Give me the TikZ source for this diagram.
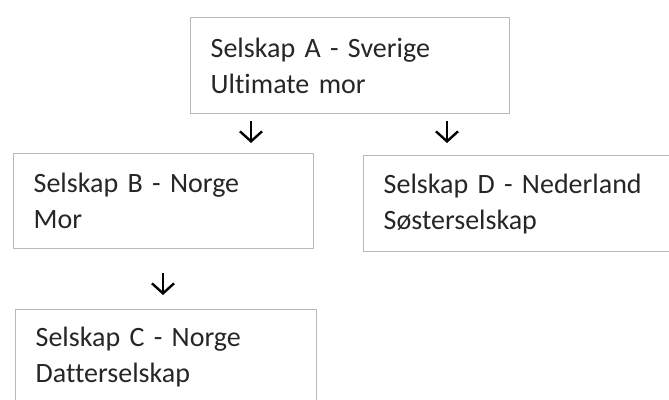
\documentclass[tikz,border=0pt]{standalone}
\usepackage{fontspec}
\setmainfont{Carlito}[Ligatures=NoCommon]
\usetikzlibrary{arrows.meta}

\tikzset{
  boks/.style={draw=black!28, line width=1.4pt, anchor=north west, align=left,
    inner xsep=20pt, inner ysep=0pt, text=black!85,
    font=\fontsize{28}{36}\selectfont},
  pil/.style={line width=2.4pt, -{Straight Barb[length=10pt,width=22pt]}}
}

\begin{document}
\begin{tikzpicture}[x=1pt,y=-1pt]
\useasboundingbox (0,0) rectangle (669,399);
\clip (0,0) rectangle (669,399);

\node[boks, minimum width=319pt, minimum height=96pt, text width=279pt] (A) at (190,17)
  {Selskap A - Sverige\\Ultimate mor};
\node[boks, minimum width=300pt, minimum height=95pt, text width=260pt] (B) at (13,153)
  {Selskap B - Norge\\Mor};
\node[boks, minimum width=400pt, minimum height=96pt, text width=360pt] (D) at (363,155)
  {Selskap D - Nederland\\Søsterselskap};
\node[boks, minimum width=301pt, minimum height=94pt, text width=261pt] (C) at (15,309)
  {Selskap C - Norge\\Datterselskap};

\coordinate (p1) at (251,0);
\coordinate (p2) at (447,0);
\coordinate (p3) at (163,0);

\draw[pil, shorten <=7pt, shorten >=10pt] (A.south -| p1) -- (B.north -| p1);
\draw[pil, shorten <=7pt, shorten >=12pt] (A.south -| p2) -- (D.north -| p2);
\draw[pil, shorten <=24pt, shorten >=14pt] (B.south -| p3) -- (C.north -| p3);
\end{tikzpicture}
\end{document}
